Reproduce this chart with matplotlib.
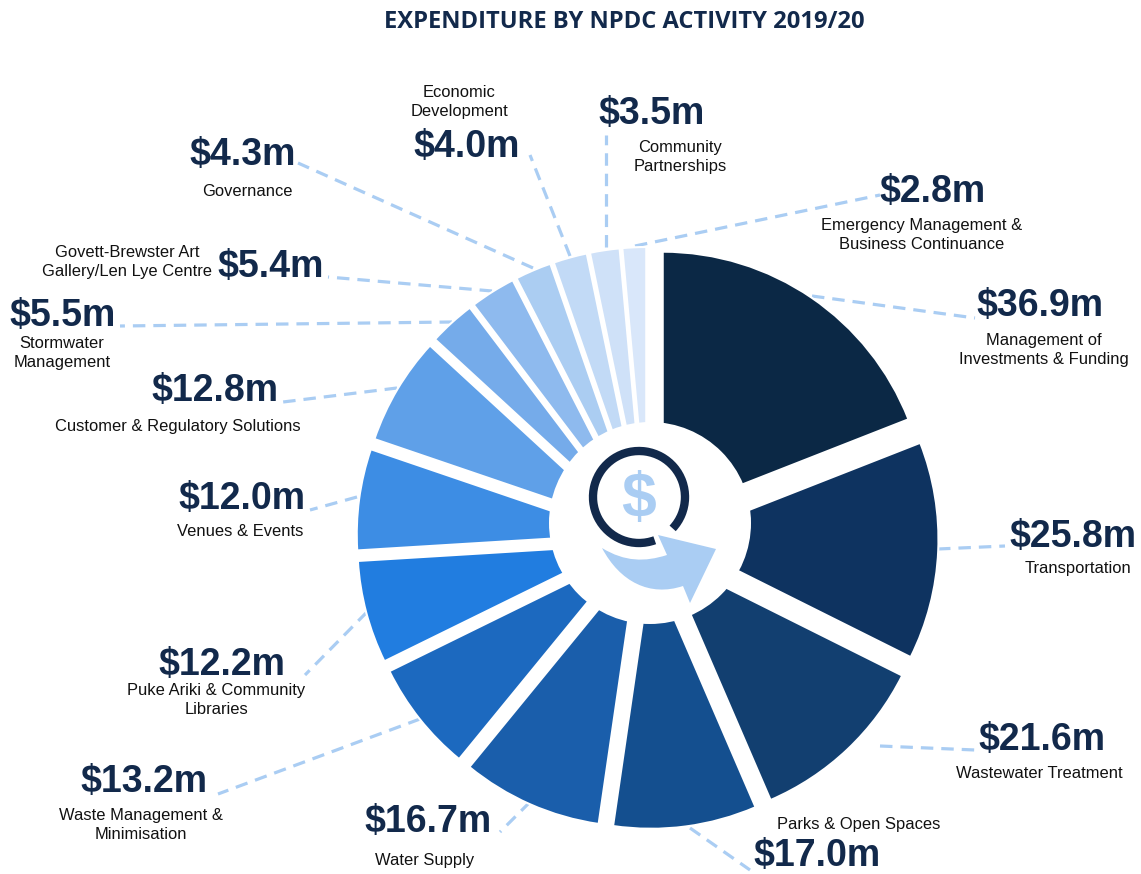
import matplotlib
matplotlib.use('Agg')
import matplotlib.pyplot as plt
from matplotlib.patches import Arc, Circle, PathPatch
from matplotlib.path import Path

W, H = 1141, 874

values = [36.9, 25.8, 21.6, 17.0, 16.7, 13.2, 12.2, 12.0, 12.8, 5.5, 5.4, 4.3, 4.0, 3.5, 2.8]
value_labels = ['$36.9m', '$25.8m', '$21.6m', '$17.0m', '$16.7m', '$13.2m', '$12.2m', '$12.0m',
                '$12.8m', '$5.5m', '$5.4m', '$4.3m', '$4.0m', '$3.5m', '$2.8m']
names = ['Management of\nInvestments & Funding', 'Transportation', 'Wastewater Treatment',
         'Parks & Open Spaces', 'Water Supply', 'Waste Management &\nMinimisation',
         'Puke Ariki & Community\nLibraries', 'Venues & Events',
         'Customer & Regulatory Solutions', 'Stormwater\nManagement',
         'Govett-Brewster Art\nGallery/Len Lye Centre', 'Governance',
         'Economic\nDevelopment', 'Community\nPartnerships',
         'Emergency Management &\nBusiness Continuance']
colors = ['#0b2845', '#0e3360', '#123f70', '#144f8f', '#1a5eab', '#1c69bf', '#217de0', '#3d8de4',
          '#5fa0e8', '#75abea', '#8ebaee', '#abcdf2', '#c2daf6', '#cfe1f8', '#d9e7fa']

# pixel positions (x, y from top left)
value_pos = [(1040, 306), (1073, 537), (1042, 740), (817, 856), (428, 822), (144, 782), (222, 665),
             (242, 499), (215, 391), (63, 316), (271, 267), (243, 155), (467, 147), (652, 114), (933, 192)]
name_pos = [(1044, 350), (1078, 569), (1039, 774), (859, 825), (425, 860), (141, 825), (216, 700),
            (240, 531), (178, 426), (62, 353), (127, 262), (247, 191), (459, 102), (680, 157), (922, 235)]
leaders = [((812, 296), (975, 318)), ((938, 549), (1005, 546)), ((880, 746), (975, 750)),
           ((690, 828), (750, 870)), ((530, 802), (500, 832)), ((420, 719), (218, 794)),
           ((367, 612), (305, 675)), ((357, 497), (310, 510)), ((397, 388), (283, 402)),
           ((452, 322), (120, 326)), ((492, 291), (328, 277)), ((533, 268), (298, 163)),
           ((570, 256), (530, 155)), ((606, 247), (606, 135)), ((635, 246), (880, 195))]

navy = '#12294b'
light = '#aacdf3'
cx, cy = 647.5, 538
radius = 264
gap = 27


def Y(py):
    return H - py


fig = plt.figure(figsize=(W / 100, H / 100), dpi=100)
ax = fig.add_axes([0, 0, 1, 1])
ax.set_xlim(0, W)
ax.set_ylim(0, H)
ax.axis('off')

for (x0, y0), (x1, y1) in leaders:
    ax.plot([x0, x1], [Y(y0), Y(y1)], color=light, lw=2.3, dashes=(3.9, 2.5), zorder=1,
            dash_capstyle='butt')

ax.pie(values, colors=colors, startangle=90, counterclock=False, center=(cx, Y(cy)), radius=radius,
       explode=[gap] * len(values), frame=False,
       wedgeprops=dict(edgecolor='white', linewidth=1.5, zorder=2))
ax.set_xlim(0, W)
ax.set_ylim(0, H)
ax.set_aspect('equal')

# white hole sits a bit above the pie centre
ax.add_patch(Circle((650, Y(523)), 101, facecolor='white', edgecolor='none', zorder=2.5))

# centre icon
ax.add_patch(Arc((639, Y(497)), 92, 92, theta1=-43, theta2=290, color=navy, lw=6, zorder=3))
ax.text(639, Y(501), '\\$', color=light, fontsize=45, fontweight='bold', family='Liberation Sans',
        ha='center', va='center', zorder=3)
arrow_pts = [(602, 548), (625, 562), (645, 562), (667, 555), (658, 535), (716, 549), (690, 603),
             (683, 586), (650, 597), (620, 582), (602, 548), (602, 548)]
arrow_codes = [Path.MOVETO, Path.CURVE4, Path.CURVE4, Path.CURVE4, Path.LINETO, Path.LINETO, Path.LINETO,
               Path.LINETO, Path.CURVE4, Path.CURVE4, Path.CURVE4, Path.CLOSEPOLY]
ax.add_patch(PathPatch(Path([(x, Y(y)) for x, y in arrow_pts], arrow_codes),
                       facecolor=light, edgecolor='none', zorder=3))

for label, (x, y) in zip(value_labels, value_pos):
    ax.text(x, Y(y), label.replace('$', '\\$'), color=navy, fontsize=27, fontweight='bold',
            family='Liberation Sans', ha='center', va='center', zorder=4)

for name, (x, y) in zip(names, name_pos):
    ax.text(x, Y(y), name, color='#111111', fontsize=11.9, family='Liberation Sans',
            ha='center', va='center', linespacing=1.27, zorder=4)

ax.text(624, Y(22), 'EXPENDITURE BY NPDC ACTIVITY 2019/20', color=navy, fontsize=17.1, fontweight='bold',
        family='Open Sans', ha='center', va='center')

fig.savefig('out.png', dpi=100)
